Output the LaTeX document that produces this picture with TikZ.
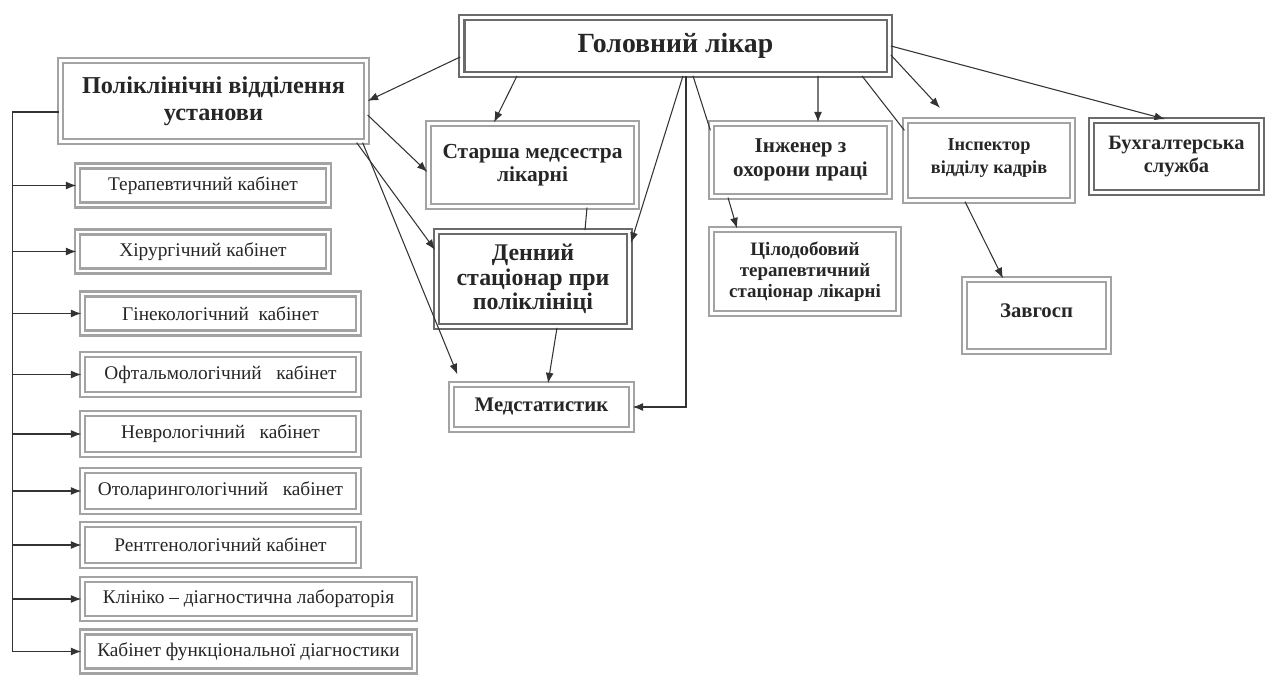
\documentclass[tikz,border=0pt]{standalone}
\usepackage{fontspec}
\setmainfont{Liberation Serif}
\definecolor{boxgray}{rgb}{0.64,0.64,0.64}
\definecolor{boxdark}{rgb}{0.42,0.42,0.42}
\definecolor{inkgray}{rgb}{0.2,0.2,0.2}
\usetikzlibrary{arrows.meta,calc,positioning}
\tikzset{
    unit/.style={
           rectangle,
           draw=boxgray, line width=1.3pt,
           double=white, double distance=1.5pt,
           inner sep=2pt,
           align=center,
           text=black!85,
           font=\fontsize{12}{13.5}\bfseries,
           },
    chief/.style={unit, draw=boxdark, line width=1.6pt, double distance=1.3pt},
    room/.style={unit, font=\fontsize{11}{13}\selectfont, minimum height=0.78cm},
}
\newcommand{\post}[1]{\textbf{#1}}
\newcommand{\room}[1]{#1}

\begin{document}
\begin{tikzpicture}[x=0.02cm, y=-0.02cm, ->, >={Latex[length=6pt,width=4.5pt]}, semithick, inkgray]
  \useasboundingbox (0,0) rectangle (1271,675);
  % management
  \node[chief, minimum width=8.56cm, minimum height=1.14cm, font=\fontsize{15.8}{18}\bfseries] (H) at (675.5, 46) {Головний лікар};
  \node[unit, minimum width=6.12cm, minimum height=1.62cm, font=\fontsize{13.8}{15.3}\bfseries] (P) at (213.5, 101) {Поліклінічні відділення\\установи};
  \node[unit, minimum width=4.16cm, minimum height=1.66cm, font=\fontsize{12.2}{13}\bfseries] (N) at (532.5, 165) {Старша медсестра\\лікарні};
  \node[chief, minimum width=3.86cm, minimum height=1.90cm, font=\fontsize{13.6}{13.8}\bfseries] (D) at (533, 279) {Денний\\стаціонар при\\поліклініці};
  \node[unit, minimum width=3.60cm, minimum height=0.90cm, font=\fontsize{11.8}{13}\bfseries] (S) at (541.5, 407) {Медстатистик};
  \node[unit, minimum width=3.56cm, minimum height=1.46cm] (E) at (800.5, 160) {Інженер з\\охорони праці};
  \node[unit, minimum width=3.74cm, minimum height=1.68cm, font=\fontsize{10.8}{11.8}\bfseries] (W) at (805, 271.5) {Цілодобовий\\терапевтичний\\стаціонар лікарні};
  \node[unit, minimum width=3.34cm, minimum height=1.60cm, font=\fontsize{10.4}{12.5}\bfseries] (K) at (989, 160.5) {\raisebox{5pt}{\shortstack{Інспектор\\[1pt]відділу кадрів}}};
  \node[chief, minimum width=3.40cm, minimum height=1.44cm, font=\fontsize{11.6}{12.8}\bfseries] (B) at (1176.5, 156.5) {Бухгалтерська\\служба};
  \node[unit, minimum width=2.88cm, minimum height=1.44cm, font=\fontsize{11.8}{13}\bfseries] (Z) at (1036.5, 315.5) {\raisebox{6pt}{Завгосп}};
  % polyclinic rooms
  \node[room, minimum width=5.02cm] (T1) at (203, 185.5) {\room{Терапевтичний кабінет}};
  \node[room, minimum width=5.02cm] (T2) at (203, 251.5) {\room{Хірургічний кабінет}};
  \node[room, minimum width=5.52cm] (T3) at (220.5, 313.5) {\room{Гінекологічний\ \ кабінет}};
  \node[room, minimum width=5.52cm, minimum height=0.80cm] (T4) at (220.5, 374.5) {\room{Офтальмологічний\ \ \ кабінет}};
  \node[room, minimum width=5.52cm, minimum height=0.82cm] (T5) at (220.5, 434) {\room{Неврологічний\ \ \ кабінет}};
  \node[room, minimum width=5.52cm, minimum height=0.82cm] (T6) at (220.5, 491) {\room{Отоларингологічний\ \ \ кабінет}};
  \node[room, minimum width=5.52cm, minimum height=0.82cm] (T7) at (220.5, 545) {\room{Рентгенологічний кабінет}};
  \node[room, minimum width=6.64cm] (T8) at (248.5, 599) {\room{Клініко -- діагностична лабораторія}};
  \node[room, minimum width=6.64cm] (T9) at (248.5, 651.5) {\room{Кабінет функціональної діагностики}};
  \coordinate (KTip) at (940, 108);
  \coordinate (Trunk) at ([xshift=-0.94cm, yshift=-0.22cm]P.west);
  % head doctor links
  \draw ([yshift=-0.22cm]H.west) -- (P.east);
  \draw ([xshift=-3.17cm]H.south) -- ([xshift=-0.77cm]N.north);
  \draw ([xshift=0.15cm]H.south) -- ([yshift=0.72cm]D.east);
  \draw ([xshift=0.21cm]H.south) |- (S);
  \draw[-] ([xshift=0.35cm]H.south) -- ([yshift=-0.16cm]E.north west);
  \draw ([xshift=2.85cm]H.south) -- ([xshift=0.35cm]E.north);
  \draw[-] ([xshift=3.73cm]H.south) -- ([yshift=-0.22cm]K.north west);
  \draw ([yshift=-0.18cm]H.east) -- (KTip);
  \draw (H.east) -- ([xshift=-0.23cm]B.north);
  % polyclinic links
  \draw ([yshift=-0.28cm]P.east) -- ([yshift=-0.14cm]N.west);
  \draw ([xshift=-0.22cm]P.south east) -- ([yshift=0.58cm]D.west);
  \draw ([xshift=-0.10cm]P.south east) -- ([xshift=0.14cm, yshift=0.18cm]S.north west);
  \draw[-] ([xshift=1.09cm]N.south) -- ([xshift=1.04cm]D.north);
  \draw ([xshift=0.48cm]D.south) -- ([xshift=0.13cm]S.north);
  \draw ([xshift=-1.45cm]E.south) -- ([xshift=-1.36cm]W.north);
  \draw ([xshift=-0.48cm]K.south) -- ([xshift=-0.67cm]Z.north);
  % rooms
  \draw[-] ([yshift=-0.22cm]P.west) -- (Trunk) -- (Trunk |- T9);
  \draw (Trunk |- T1) -- (T1);
  \draw (Trunk |- T2) -- (T2);
  \draw (Trunk |- T3) -- (T3);
  \draw (Trunk |- T4) -- (T4);
  \draw (Trunk |- T5) -- (T5);
  \draw (Trunk |- T6) -- (T6);
  \draw (Trunk |- T7) -- (T7);
  \draw (Trunk |- T8) -- (T8);
  \draw (Trunk |- T9) -- (T9);
\end{tikzpicture}
\end{document}
